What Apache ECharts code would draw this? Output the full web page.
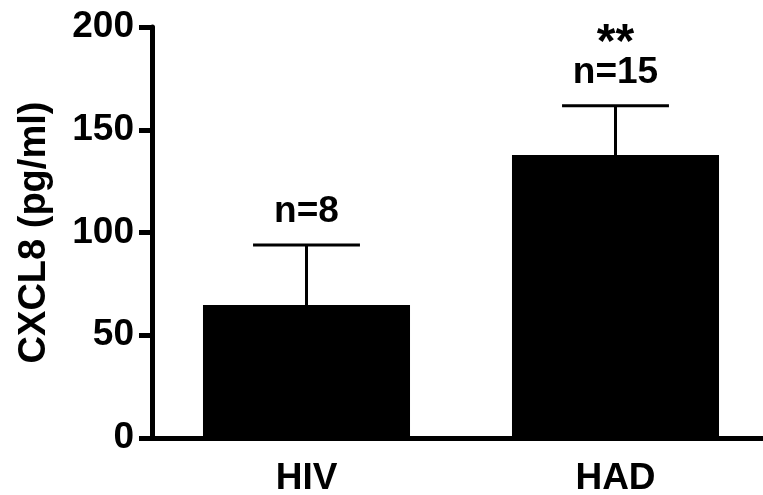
<!DOCTYPE html>
<html>
<head>
<meta charset="utf-8">
<script src="https://cdn.jsdelivr.net/npm/echarts@6/dist/echarts.min.js"></script>
<style>
  html, body { margin: 0; padding: 0; background: #fff; }
  #chart { width: 763px; height: 495px; }
</style>
</head>
<body>
<div id="chart"></div>
<script>
const categories = ["HIV", "HAD"];
const means = [64.7, 137.7];
const errors = [29.2, 24.0];
const nLabels = ["n=8", "n=15"];
const sigLabels = ["", "**"];
const yTicks = [0, 50, 100, 150, 200];

const FONT = "'Liberation Sans', Arial, sans-serif";
const chart = echarts.init(document.getElementById('chart'), null, { renderer: 'canvas' });

const errData = categories.map((c, i) => [i, means[i], errors[i], nLabels[i], sigLabels[i]]);

chart.setOption({
  animation: false,
  backgroundColor: '#ffffff',
  grid: { left: 152, width: 618, top: 27, bottom: 57, containLabel: false, outerBoundsMode: 'none' },
  xAxis: {
    type: 'category',
    data: categories,
    axisLine: { lineStyle: { color: '#000', width: 5 } },
    axisTick: { show: false },
    axisLabel: { color: '#000', fontSize: 37, fontWeight: 'bold', fontFamily: FONT, margin: 22 }
  },
  yAxis: {
    type: 'value',
    min: yTicks[0],
    max: yTicks[yTicks.length - 1],
    interval: 50,
    name: 'CXCL8 (pg/ml)',
    nameLocation: 'middle',
    nameRotate: 90,
    nameGap: 98,
    nameTextStyle: { color: '#000', fontSize: 38, fontWeight: 'bold', fontFamily: FONT },
    splitLine: { show: false },
    axisLine: { show: true, lineStyle: { color: '#000', width: 5 } },
    axisTick: { show: true, length: 13, lineStyle: { color: '#000', width: 5 } },
    axisLabel: { color: '#000', fontSize: 37, fontWeight: 'bold', fontFamily: FONT, margin: 18 }
  },
  series: [
    {
      type: 'bar',
      data: means,
      barWidth: '67%',
      itemStyle: { color: '#000' },
      z: 2
    },
    {
      type: 'custom',
      data: errData,
      z: 3,
      renderItem: function (params, api) {
        const x = api.value(0), m = api.value(1), e = api.value(2);
        const base = api.coord([x, m]);
        const top = api.coord([x, m + e]);
        const band = api.size([1, 0])[0];
        const half = band * 0.173;
        const children = [
          { type: 'line', shape: { x1: top[0], y1: base[1], x2: top[0], y2: top[1] }, style: { stroke: '#000', lineWidth: 3 } },
          { type: 'line', shape: { x1: top[0] - half, y1: top[1], x2: top[0] + half, y2: top[1] }, style: { stroke: '#000', lineWidth: 3 } },
          { type: 'text', x: top[0], y: top[1] - 33, style: { text: api.value(3), fill: '#000', font: 'bold 37px ' + FONT, align: 'center', verticalAlign: 'middle' } }
        ];
        const sig = errData[params.dataIndex][4];
        if (sig) {
          children.push({ type: 'text', x: top[0], y: top[1] - 62, style: { text: sig, fill: '#000', font: 'bold 48px ' + FONT, align: 'center', verticalAlign: 'middle' } });
        }
        return { type: 'group', children: children };
      }
    }
  ]
});
</script>
</body>
</html>
